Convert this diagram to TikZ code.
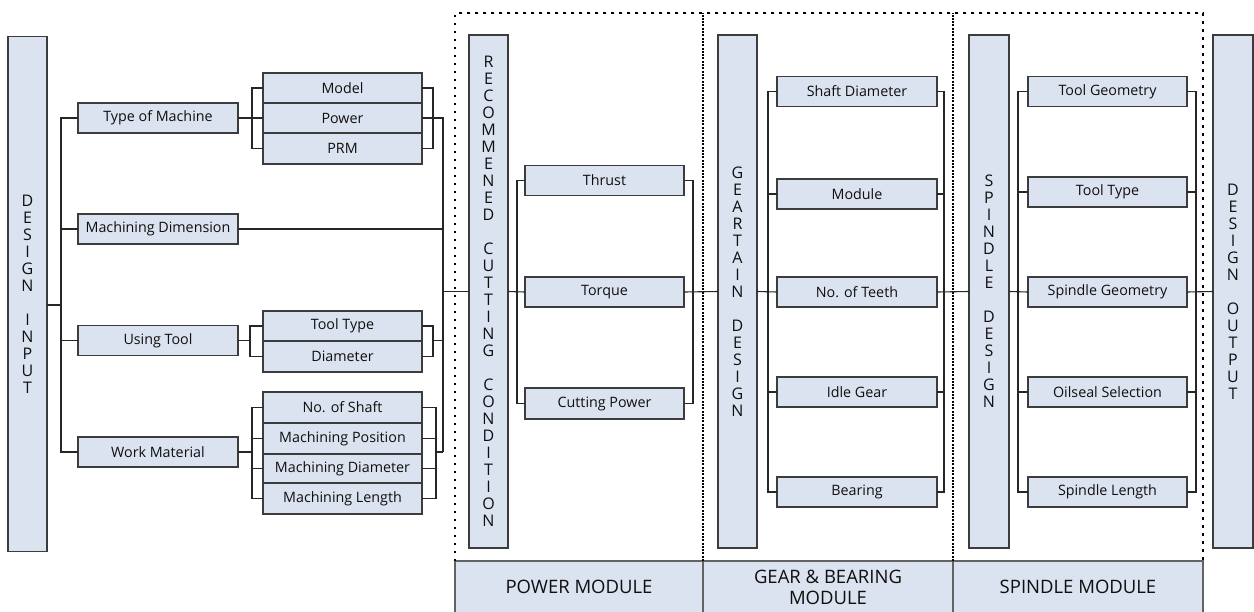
\documentclass[tikz,border=0pt]{standalone}
\usepackage{fontspec}
\setmainfont{Open Sans}
\definecolor{bf}{RGB}{219,227,240}
\definecolor{bd}{RGB}{60,60,60}
\definecolor{tx}{RGB}{15,15,15}
\begin{document}
\begin{tikzpicture}[x=1pt,y=-1pt,
  box/.style={draw=bd, fill=bf, line width=1.3pt, minimum width=159, minimum height=30, inner sep=0, outer sep=0, font=\fontsize{14.3}{16}\selectfont, text=tx},
  bar/.style={draw=bd, fill=bf, line width=1.3pt, minimum width=39, minimum height=513, inner sep=0, outer sep=0, align=center, font=\fontsize{16}{17}\selectfont, text=tx},
  modbox/.style={draw=bd!80, fill=bf, line width=1.2pt, minimum height=52, inner sep=0, outer sep=0, align=center, font=\fontsize{18.5}{21}\selectfont, text=tx},
  conn/.style={line width=1.1pt, draw=black!85},
  outerdot/.style={line width=2.5pt, dash pattern=on 2.5pt off 5.5pt},
  innerdot/.style={line width=2.5pt, dash pattern=on 2pt off 1.3pt}]
\useasboundingbox (0,0) rectangle (1254,611);
\clip (0,0) rectangle (1254,611);

% module label boxes
\node[modbox, minimum width=248] (pm) at (579,587) {POWER MODULE};
\node[modbox, minimum width=250] (gbm) at (828,587) {GEAR \& BEARING\\MODULE};
\node[modbox, minimum width=250] (sm) at (1078,587) {SPINDLE MODULE};

% dotted frame
\draw[outerdot] (pm.north west) -- (455,13) -- (1203,13) -- (sm.north east);
\draw[innerdot] (pm.north east) -- (703,13);
\draw[innerdot] (gbm.north east) -- (953,13);

% bars
\node[bar, minimum height=515] (din) at (27.5,294) {D\\E\\S\\I\\G\\N\\[17pt]I\\N\\P\\U\\T};
\node[bar] (rc) at (488.5,291.5) {R\\E\\C\\O\\M\\M\\E\\N\\E\\D\\[17pt]C\\U\\T\\T\\I\\N\\G\\[17pt]C\\O\\N\\D\\I\\T\\I\\O\\N};
\node[bar] (gt) at (737.5,291.5) {G\\E\\A\\R\\T\\A\\I\\N\\[17pt]D\\E\\S\\I\\G\\N};
\node[bar, minimum width=40] (sp) at (989,291.5) {S\\P\\I\\N\\D\\L\\E\\[17pt]D\\E\\S\\I\\G\\N};
\node[bar, minimum width=40] (dout) at (1233,291.5) {D\\E\\S\\I\\G\\N\\[17pt]O\\U\\T\\P\\U\\T};

% left column
\node[box, minimum width=160] (tom) at (158,118) {Type of Machine};
\node[box, minimum width=160] (md) at (158,229) {Machining Dimension};
\node[box, minimum width=160] (ut) at (158,340.5) {Using Tool};
\node[box, minimum width=160] (wm) at (158,452) {Work Material};

\node[box] (model) at (342.5,88) {Model};
\node[box] (power) at (342.5,118) {Power};
\node[box, minimum height=31] (prm) at (342.5,148.5) {PRM};

\node[box] (tt) at (342.5,326) {Tool Type};
\node[box, minimum height=31] (dia) at (342.5,356.5) {Diameter};

\node[box, minimum height=31] (nos) at (342.5,407.5) {No. of Shaft};
\node[box, minimum height=31] (mp) at (342.5,438.5) {Machining Position};
\node[box, minimum height=29] (mdia) at (342.5,468.5) {Machining Diameter};
\node[box, minimum height=31] (ml) at (342.5,498.5) {Machining Length};

% power module
\node[box] (thrust) at (604.5,180.5) {Thrust};
\node[box] (torque) at (604.5,292) {Torque};
\node[box, minimum height=31] (cp) at (604.5,403.5) {Cutting Power};

% gear module
\node[box, minimum width=160] (shd) at (857,91.5) {Shaft Diameter};
\node[box, minimum width=160] (mod) at (857,194) {Module};
\node[box, minimum width=160] (teeth) at (857,292) {No. of Teeth};
\node[box, minimum width=160] (idle) at (857,392) {Idle Gear};
\node[box, minimum width=160] (bear) at (857,492) {Bearing};

% spindle module
\node[box] (tg) at (1107.5,91.5) {Tool Geometry};
\node[box] (stt) at (1107.5,192) {Tool Type};
\node[box] (sg) at (1107.5,292) {Spindle Geometry};
\node[box] (os) at (1107.5,392) {Oilseal Selection};
\node[box] (sl) at (1107.5,492) {Spindle Length};

% bracket x positions
\coordinate (tj) at (61,305);
\coordinate (lb1) at (252,0);
\coordinate (lb2) at (250,0);
\coordinate (rb1) at (433,0);
\coordinate (rb3) at (436,0);
\coordinate (col) at (443,0);
\coordinate (pl) at (517,0);
\coordinate (pr) at (693,0);
\coordinate (gl) at (768,0);
\coordinate (gr) at (944,0);
\coordinate (sl0) at (1018,0);
\coordinate (sr) at (1196,0);

% design input trunk
\draw[conn] (din.east |- tj) -- (tj);
\draw[conn] (tom.west) -- (tom.west -| tj) -- (wm.west -| tj) -- (wm.west);
\draw[conn] (md.west) -- (md.west -| tj);
\draw[conn] (ut.west) -- (ut.west -| tj);

% type of machine group
\draw[conn] (tom.east) -- (power.west);
\draw[conn] (model.west) -- (model.west -| lb1) -- (prm.west -| lb1) -- (prm.west);
\draw[conn] (model.east) -- (model.east -| rb1) -- (prm.east -| rb1) -- (prm.east);
\draw[conn] (power.east) -- (power.east -| col) -- (wm.east -| col);
\draw[conn] (md.east) -- (md.east -| col);
\draw[conn] (col |- rc.west) -- (rc.west);

% using tool group
\draw[conn] (ut.east) -- (ut.east -| lb2);
\draw[conn] (tt.west) -- (tt.west -| lb2) -- (dia.west -| lb2) -- (dia.west);
\draw[conn] (tt.east) -- (tt.east -| rb1) -- (dia.east -| rb1) -- (dia.east);
\draw[conn] (ut.east -| rb1) -- (ut.east -| col);

% work material group
\draw[conn] (wm.east) -- (wm.east -| lb1);
\draw[conn] (nos.west) -- (nos.west -| lb1) -- (ml.west -| lb1) -- (ml.west);
\draw[conn] (mp.west) -- (mp.west -| lb1);
\draw[conn] (mdia.west) -- (mdia.west -| lb1);
\draw[conn] (nos.east) -- (nos.east -| rb3) -- (ml.east -| rb3) -- (ml.east);
\draw[conn] (mp.east) -- (mp.east -| rb3);
\draw[conn] (mdia.east) -- (mdia.east -| rb3);
\draw[conn] (wm.east -| rb3) -- (wm.east -| col);

% power module connectors
\draw[conn] (rc.east) -- (torque.west);
\draw[conn] (thrust.west) -- (thrust.west -| pl) -- (cp.west -| pl) -- (cp.west);
\draw[conn] (thrust.east) -- (thrust.east -| pr) -- (cp.east -| pr) -- (cp.east);
\draw[conn] (torque.east) -- (gt.west);

% gear module connectors
\draw[conn] (gt.east) -- (teeth.west);
\draw[conn] (shd.west) -- (shd.west -| gl) -- (bear.west -| gl) -- (bear.west);
\draw[conn] (mod.west) -- (mod.west -| gl);
\draw[conn] (idle.west) -- (idle.west -| gl);
\draw[conn] (shd.east) -- (shd.east -| gr) -- (bear.east -| gr) -- (bear.east);
\draw[conn] (mod.east) -- (mod.east -| gr);
\draw[conn] (idle.east) -- (idle.east -| gr);
\draw[conn] (teeth.east) -- (sp.west);

% spindle module connectors
\draw[conn] (sp.east) -- (sg.west);
\draw[conn] (tg.west) -- (tg.west -| sl0) -- (sl.west -| sl0) -- (sl.west);
\draw[conn] (stt.west) -- (stt.west -| sl0);
\draw[conn] (os.west) -- (os.west -| sl0);
\draw[conn] (tg.east) -- (tg.east -| sr) -- (sl.east -| sr) -- (sl.east);
\draw[conn] (stt.east) -- (stt.east -| sr);
\draw[conn] (os.east) -- (os.east -| sr);
\draw[conn] (sg.east) -- (dout.west);
\end{tikzpicture}
\end{document}
